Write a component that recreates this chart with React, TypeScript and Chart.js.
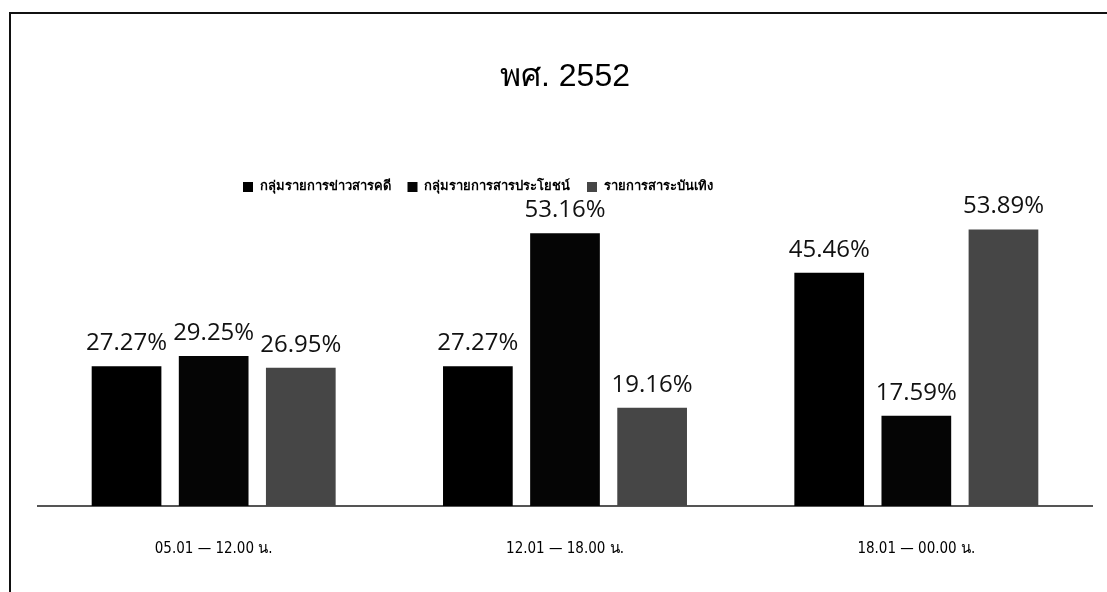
import React, { useEffect, useRef } from "react";
import { Chart, registerables } from "chart.js";

Chart.register(...registerables);

const categories = ["05.01 \u2014 12.00 น.", "12.01 \u2014 18.00 น.", "18.01 \u2014 00.00 น."];
const seriesNames = ["กลุ่มรายการข่าวสารคดี", "กลุ่มรายการสารประโยชน์", "รายการสาระบันเทิง"];
const newsDoc = [27.27, 27.27, 45.46];
const utility = [29.25, 53.16, 17.59];
const entertainment = [26.95, 19.16, 53.89];
const seriesColors = ["#000000", "#050505", "#464646"];
const titleText = "พศ. 2552";

const framePlugin = {
  id: "frame",
  beforeDraw(chart: any) {
    const ctx = chart.ctx;
    ctx.save();
    ctx.fillStyle = "#ffffff";
    ctx.fillRect(0, 0, chart.width, chart.height);
    ctx.strokeStyle = "#111111";
    ctx.lineWidth = 2;
    ctx.beginPath();
    ctx.moveTo(10, chart.height);
    ctx.lineTo(10, 13);
    ctx.lineTo(chart.width, 13);
    ctx.stroke();
    ctx.restore();
  },
};

const valueLabelPlugin = {
  id: "valueLabels",
  afterDatasetsDraw(chart: any) {
    const ctx = chart.ctx;
    ctx.save();
    ctx.font = "24px 'Open Sans', sans-serif";
    ctx.fillStyle = "#111111";
    ctx.textAlign = "center";
    ctx.textBaseline = "middle";
    chart.data.datasets.forEach((ds: any, di: number) => {
      const meta = chart.getDatasetMeta(di);
      meta.data.forEach((el: any, i: number) => {
        const v = ds.data[i] as number;
        ctx.fillText(v.toFixed(2) + "%", el.x, el.y - 23);
      });
    });
    ctx.restore();
  },
};

const legendShiftPlugin = {
  id: "legendShift",
  afterLayout(chart: any) {
    const lg = chart.legend;
    if (lg) {
      const w = lg.right - lg.left;
      lg.left = 226;
      lg.right = 226 + w;
    }
  },
};

export default function App() {
  const ref = useRef<HTMLCanvasElement | null>(null);
  useEffect(() => {
    document.body.style.margin = "0";
    if (!ref.current) return;
    const chart = new Chart(ref.current, {
      type: "bar",
      data: {
        labels: categories,
        datasets: [
          { label: seriesNames[0], data: newsDoc, backgroundColor: seriesColors[0] },
          { label: seriesNames[1], data: utility, backgroundColor: seriesColors[1] },
          { label: seriesNames[2], data: entertainment, backgroundColor: seriesColors[2] },
        ],
      },
      options: {
        animation: false,
        responsive: true,
        maintainAspectRatio: false,
        datasets: { bar: { categoryPercentage: 0.744, barPercentage: 0.8 } },
        layout: { padding: { left: 38, right: 15, top: 0, bottom: 0 } },
        plugins: {
          title: {
            display: true,
            text: titleText,
            color: "#000000",
            font: { family: "'Liberation Sans', Arial, sans-serif", size: 32, weight: "normal" },
            padding: { top: 58, bottom: 67 },
          },
          legend: {
            display: true,
            align: "start",
            labels: {
              boxWidth: 10,
              boxHeight: 10,
              padding: 17,
              color: "#000000",
              font: { family: "'Liberation Sans Narrow', 'DejaVu Sans Condensed', sans-serif", size: 13, weight: "bold" },
            },
          },
          tooltip: { enabled: false },
        },
        scales: {
          x: {
            grid: { display: false, drawTicks: false },
            border: { display: true, color: "#555555", width: 2 },
            ticks: {
              padding: 34,
              color: "#000000",
              font: { family: "'Liberation Sans Narrow', 'DejaVu Sans Condensed', sans-serif", size: 15 },
            },
          },
          y: {
            display: false,
            min: 0,
            max: 59,
          },
        },
      },
      plugins: [framePlugin, valueLabelPlugin, legendShiftPlugin],
    });
    return () => chart.destroy();
  }, []);
  return (
    <div style={{ position: "absolute", left: 0, top: 0, width: 1107, height: 592 }}>
      <canvas ref={ref} />
    </div>
  );
}
